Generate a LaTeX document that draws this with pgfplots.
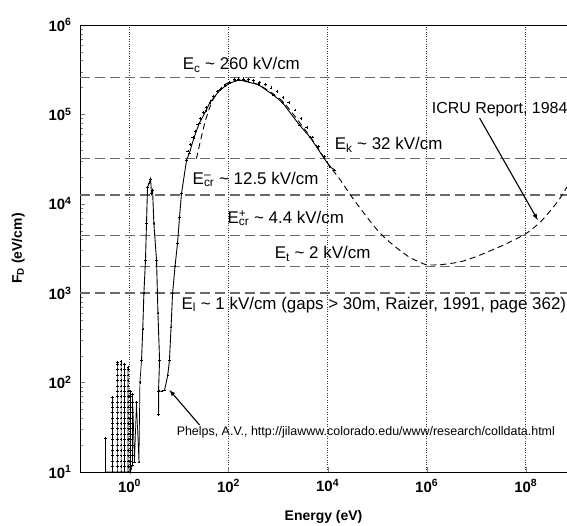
\documentclass[border=0pt]{standalone}
\usepackage{fontspec}
\setmainfont{Liberation Sans}
\usepackage{pgfplots}
\pgfplotsset{compat=1.18}
\definecolor{refgray}{RGB}{105,105,105}
\begin{document}
\begin{tikzpicture}
\useasboundingbox (-80bp,-54bp) rectangle (487bp,472bp);
\begin{axis}[
  scale only axis,
  width=487bp, height=447bp,
  xmode=log, ymode=log,
  xmin=0.1, xmax=6.8e8, ymin=10, ymax=1e6,
  axis x line*=box, axis y line*=left,
  xtick pos=bottom, ytick pos=left,
  xtick={1,100,1e4,1e6,1e8},
  xticklabels={10\textsuperscript{0},10\textsuperscript{2},10\textsuperscript{4},10\textsuperscript{6},10\textsuperscript{8}},
  ytick={10,100,1000,1e4,1e5,1e6},
  yticklabels={10\textsuperscript{1},10\textsuperscript{2},10\textsuperscript{3},10\textsuperscript{4},10\textsuperscript{5},10\textsuperscript{6}},
  minor ytick={20,30,40,50,60,70,80,90,200,300,400,500,600,700,800,900,2000,3000,4000,5000,6000,7000,8000,9000,2e4,3e4,4e4,5e4,6e4,7e4,8e4,9e4,2e5,3e5,4e5,5e5,6e5,7e5,8e5,9e5},
  xmajorgrids,
  grid style={black!80, dotted, line width=0.9pt},
  major tick length=5bp, minor tick length=3bp,
  tick label style={font=\bfseries\fontsize{15}{17}\selectfont},
  xticklabel style={yshift=-4bp},
  yticklabel style={xshift=-5bp},
  label style={font=\bfseries\fontsize{14}{16}\selectfont},
  xlabel={Energy (eV)},
  ylabel={F\textsubscript{D} (eV/cm)},
  xlabel style={at={(axis description cs:0.5,-0.101)}, anchor=center},
  ylabel style={at={(axis description cs:-0.127,0.5)}, anchor=center},
  clip=false,
]
% threshold field lines
\addplot[refgray, line width=1.4pt, dash pattern=on 10bp off 5bp] coordinates {(0.1,2.6e5) (6.8e8,2.6e5)};
\addplot[refgray, line width=1.4pt, dash pattern=on 10bp off 5bp] coordinates {(0.1,3.2e4) (6.8e8,3.2e4)};
\addplot[refgray, line width=1.4pt, dash pattern=on 10bp off 5bp] coordinates {(0.1,1.25e4) (6.8e8,1.25e4)};
\addplot[refgray, line width=1.4pt, dash pattern=on 10bp off 5bp] coordinates {(0.1,4.4e3) (6.8e8,4.4e3)};
\addplot[refgray, line width=1.4pt, dash pattern=on 10bp off 5bp] coordinates {(0.1,2e3) (6.8e8,2e3)};
\addplot[refgray, line width=1.4pt, dash pattern=on 10bp off 5bp] coordinates {(0.1,1e3) (6.8e8,1e3)};
% Phelps data: low-energy vibrational structure
\addplot[black, line width=0.7pt, mark=+, mark size=1.2pt, mark options={solid, line width=0.5pt}] coordinates {
(0.327,10) (0.327,24) (0.327,10)
(0.454,10) (0.454,11.5) (0.454,13.2) (0.454,15.2) (0.454,17.4) (0.454,20) (0.454,23) (0.454,26.5) (0.454,30.5) (0.454,35) (0.454,40) (0.454,46) (0.454,53) (0.454,61) (0.454,69) (0.454,10)
(0.575,10) (0.575,11.5) (0.575,13.2) (0.575,15.2) (0.575,17.4) (0.575,20) (0.575,23) (0.575,26.5) (0.575,30.5) (0.575,35) (0.575,40) (0.575,46) (0.575,53) (0.575,61) (0.575,70) (0.575,80) (0.575,92) (0.575,106) (0.575,122) (0.575,140) (0.575,160) (0.575,170) (0.575,10)
(0.676,10) (0.676,11.5) (0.676,13.2) (0.676,15.2) (0.676,17.4) (0.676,20) (0.676,23) (0.676,26.5) (0.676,30.5) (0.676,35) (0.676,40) (0.676,46) (0.676,53) (0.676,61) (0.676,70) (0.676,80) (0.676,92) (0.676,106) (0.676,122) (0.676,140) (0.676,160) (0.676,172) (0.676,10)
(0.794,10) (0.794,11.5) (0.794,13.2) (0.794,15.2) (0.794,17.4) (0.794,20) (0.794,23) (0.794,26.5) (0.794,30.5) (0.794,35) (0.794,40) (0.794,46) (0.794,53) (0.794,61) (0.794,70) (0.794,80) (0.794,92) (0.794,106) (0.794,122) (0.794,140) (0.794,160) (0.794,10)
(0.933,10) (0.933,11.5) (0.933,13.2) (0.933,15.2) (0.933,17.4) (0.933,20) (0.933,23) (0.933,26.5) (0.933,30.5) (0.933,35) (0.933,40) (0.933,46) (0.933,53) (0.933,61) (0.933,70) (0.933,80) (0.933,92) (0.933,106) (0.933,122) (0.933,140) (0.933,150) (0.933,10)
(1.047,10) (1.047,11.5) (1.047,13.2) (1.047,15.2) (1.047,17.4) (1.047,20) (1.047,23) (1.047,26.5) (1.047,30.5) (1.047,35) (1.047,40) (1.047,46) (1.047,53) (1.047,61) (1.047,70) (1.047,80) (1.047,10)
(1.148,12) (1.148,15.2) (1.148,20) (1.148,26.5) (1.148,35) (1.148,46) (1.148,61) (1.148,75)
(1.26,13) (1.38,60) (1.55,13) (1.62,100) (1.75,179)
};
% Phelps data: 2 eV peak and ionization maximum
\addplot[black, line width=0.9pt, mark=+, mark size=1.2pt, mark options={solid, line width=0.5pt}] coordinates {
(1.75,179) (1.85,400) (1.95,1000) (2.10,2340) (2.20,6000) (2.31,1.55e4) (2.50,1.7e4)
(2.66,1.9e4) (2.78,1.3e4) (2.92,1.42e4) (3.1,6000) (3.51,2340) (3.75,600)
(4.04,178) (3.85,80) (3.85,44) (3.9,80) (4.5,80) (5.09,82) (5.9,120) (6.4,178)
(6.9,420) (7.4,1000) (8.3,2000) (9.3,3600) (10.2,7000) (11.2,1.3e4) (14.2,3.1e4)
(16.2,3.7e4) (20,5.5e4) (25.7,8e4) (35,1.1e5) (41.7,1.35e5) (66,1.86e5)
(105,2.24e5) (166,2.43e5) (400,2.15e5) (800,1.65e5) (1230,1.35e5) (2700,7.6e4)
(4365,5.6e4) (1.1e4,2.6e4) (1.38e4,2.4e4)
};
% ICRU data
\addplot[black, line width=0.9pt, dash pattern=on 6bp off 4bp, smooth, tension=0.4] coordinates {
(22.4,3.2e4) (33,8e4) (48,1.45e5) (83,2.15e5) (166,2.43e5) (400,2.15e5)
(1230,1.4e5) (4365,5.7e4) (1.1e4,2.65e4) (1.74e4,1.9e4) (3.16e4,1.17e4)
(6.2e4,7.1e3) (1e5,5.1e3) (1.55e5,4e3) (2.5e5,3.2e3) (4.6e5,2.5e3)
(7.1e5,2.24e3) (1e6,2.07e3) (2e6,2.09e3) (4.7e6,2.24e3) (1e7,2.57e3)
(2.95e7,3.3e3) (5.6e7,3.9e3) (1.05e8,4.7e3) (2e8,6.3e3) (3.55e8,9.1e3)
(5e8,1.17e4) (6.8e8,1.55e4)
};
% third data set near the peak
\addplot[black, only marks, mark=+, mark size=1.4pt, line width=0.5pt] coordinates {
(15,3.9e4) (17,4.6e4) (19,5.5e4) (21,6.5e4) (24,7.8e4) (27,9e4) (31,1.05e5)
(36,1.2e5) (42,1.38e5) (50,1.6e5) (60,1.8e5) (72,1.95e5) (86,2.1e5) (105,2.3e5)
(130,2.45e5) (160,2.5e5) (200,2.5e5) (250,2.45e5) (320,2.38e5) (420,2.28e5)
(550,2.15e5) (720,1.98e5) (950,1.8e5) (1250,1.55e5) (1650,1.35e5) (2200,1.12e5)
(2900,9e4) (3800,7.2e4) (5000,5.6e4) (6600,4.4e4) (8700,3.4e4)
};
% labels
\begin{scope}[every node/.style={font=\fontsize{17}{19}\selectfont, inner sep=0pt}]
\node[anchor=west] at (axis cs:11.8,3.55e5) {E\textsubscript{c} \textasciitilde\ 260 kV/cm};
\node[anchor=west] at (axis cs:1.38e4,4.6e4) {E\textsubscript{k} \textasciitilde\ 32 kV/cm};
\node[anchor=west] at (axis cs:18.7,1.87e4) {E\rlap{\textsuperscript{--}}\textsubscript{cr} \textasciitilde\ 12.5 kV/cm};
\node[anchor=west] at (axis cs:95,6.9e3) {E\rlap{\textsuperscript{+}}\textsubscript{cr} \textasciitilde\ 4.4 kV/cm};
\node[anchor=west] at (axis cs:850,2.77e3) {E\textsubscript{t} \textasciitilde\ 2 kV/cm};
\node[anchor=west] at (axis cs:11.2,740) {E\textsubscript{l} \textasciitilde\ 1 kV/cm (gaps > 30m, Raizer, 1991, page 362)};
\node[anchor=west, font=\fontsize{16}{18}\selectfont] at (axis cs:1.26e6,1.12e5) {ICRU Report, 1984};
\node[anchor=west, font=\fontsize{12.5}{14}\selectfont] at (axis cs:8.9,28) {Phelps, A.V., http://jilawww.colorado.edu/www/research/colldata.html};
\end{scope}
\draw[-latex, line width=1.1pt] (axis cs:1.17e7,9.1e4) -- (axis cs:1.74e8,6.6e3);
\draw[-latex, line width=1.1pt] (axis cs:25.9,33.6) -- (axis cs:6.4,82.6);
\end{axis}
\end{tikzpicture}
\end{document}
